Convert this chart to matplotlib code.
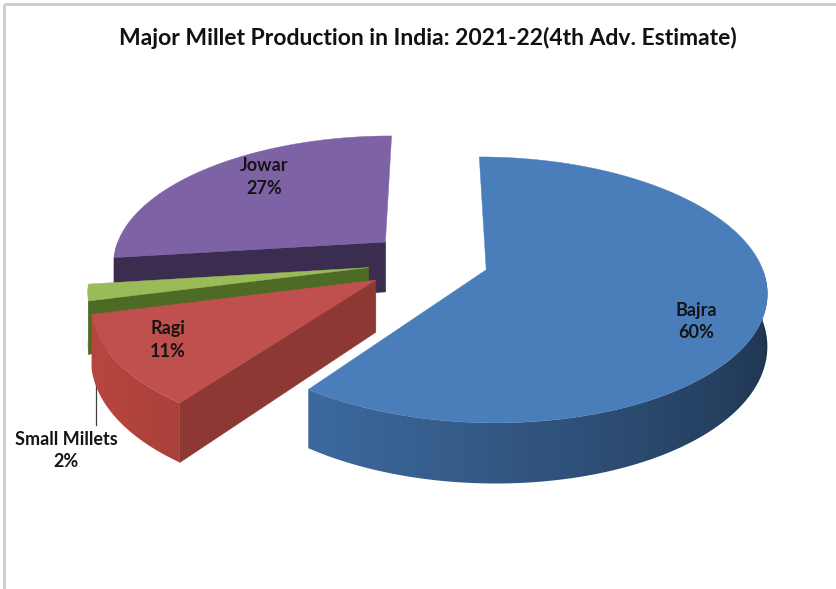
import numpy as np
import matplotlib.pyplot as plt
from matplotlib.colors import to_rgb
from matplotlib.patches import Polygon

crops = ['Bajra', 'Ragi', 'Small Millets', 'Jowar']
shares = [60, 11, 2, 27]
explode = [0.20, 0.25, 0.24, 0.24]
top_colors = ['#4a7ebb', '#c0504d', '#9bbb59', '#7e62a6']
wall_colors = ['#4272ab', '#b8463f', '#587a2b', '#3b2d4f']
cut_colors = ['#2c4c76', '#8e3835', '#4e6b25', '#3b2d4f']
label_r = [0.80, 0.80, 0.97, 0.77]
label_turn = [-10, -2.5, 0, -7.5]
title = 'Major Millet Production in India: 2021-22(4th Adv. Estimate)'

W, H = 836, 589
CX, CY = 433.6, 261.8     # pie centre on the page (px)
RX, RY = 274.0, 127.5     # radius across / radius into the page
K = 0.15                  # perspective foreshortening
DEPTH = 51.0              # thickness of the pie


def proj(u, v, z=0.0):
    s = 1.0 / (1.0 + K * v)
    return CX + RX * u * s, CY - RY * v * s + DEPTH * z * s


def shade(color, f):
    return [min(1, c * f) for c in to_rgb(color)]


fig = plt.figure(figsize=(W / 100, H / 100), dpi=100)
ax = fig.add_axes([0, 0, 1, 1])

# slices run clockwise from 12 o'clock
ends = 90 - 360 * np.cumsum(shares) / sum(shares)
starts = np.r_[90, ends[:-1]]
slices = []
for i in range(len(shares)):
    a0, a1 = starts[i], ends[i]
    mid = np.radians((a0 + a1) / 2)
    slices.append((a0, a1, explode[i] * np.cos(mid), explode[i] * np.sin(mid)))

order = np.argsort([-s[3] for s in slices])  # far slices first
for i in order:
    a0, a1, ox, oy = slices[i]

    # straight cut faces that turn toward the viewer
    for a, nrm in ((a0, a0 + 90), (a1, a1 - 90)):
        if np.sin(np.radians(nrm)) < -1e-6:
            eu = ox + np.cos(np.radians(a))
            ev = oy + np.sin(np.radians(a))
            pts = [proj(ox, oy), proj(eu, ev), proj(eu, ev, 1), proj(ox, oy, 1)]
            ax.fill(*zip(*pts), color=cut_colors[i], lw=0.5, zorder=2)

    # front part of the curved wall, shaded with a gradient
    lo, hi = max(a1, -180), min(a0, 0)
    if hi > lo:
        tt = np.radians(np.linspace(lo, hi, 200))
        xt, yt = proj(ox + np.cos(tt), oy + np.sin(tt))
        xb, yb = proj(ox + np.cos(tt), oy + np.sin(tt), 1)
        wall = Polygon(np.c_[np.r_[xt, xb[::-1]], np.r_[yt, yb[::-1]]],
                       closed=True, fc='none', ec='none')
        ax.add_patch(wall)
        cols = np.linspace(xt.min(), xt.max(), 400)
        ang = np.interp(cols, xt, tt)
        f = 0.45 + 0.55 * (np.cos(ang - np.radians(-170)) + 1) / 2
        img = np.array([shade(wall_colors[i], fi) for fi in f])[None, :, :]
        im = ax.imshow(img, extent=(xt.min() - 1, xt.max() + 1, yb.max() + 1, yt.min() - 1),
                       aspect='auto', interpolation='bilinear', zorder=2)
        im.set_clip_path(wall)

    # top face
    t = np.radians(np.linspace(a0, a1, 240))
    tx, ty = proj(np.r_[ox, ox + np.cos(t), ox], np.r_[oy, oy + np.sin(t), oy])
    ax.fill(tx, ty, color=top_colors[i], lw=0.3, zorder=2)

# data labels
for i, name in enumerate(crops):
    a0, a1, ox, oy = slices[i]
    ang = np.radians((a0 + a1) / 2 + label_turn[i])
    u = ox + label_r[i] * np.cos(ang)
    v = oy + label_r[i] * np.sin(ang)
    txt = f'{name}\n{shares[i]}%'
    if shares[i] < 5:
        x, y = proj(u, v, 1)
        ax.plot([x, x], [y, y + 80], color='#404040', lw=0.9, zorder=1)
        ax.text(x - 30, y + 106, txt, ha='center', va='center', fontsize=13,
                fontweight='bold', family='Lato', color='#141414', linespacing=1.4)
    else:
        x, y = proj(u, v)
        ax.text(x, y, txt, ha='center', va='center', fontsize=13,
                fontweight='bold', family='Lato', color='#141414', linespacing=1.4, zorder=5)

# chart area frame
ax.plot([4, W], [4, 4], color='#cccccc', lw=2, solid_capstyle='butt')
ax.plot([4, 4], [4, H], color='#cccccc', lw=2, solid_capstyle='butt')

ax.set_xlim(0, W)
ax.set_ylim(H, 0)
ax.axis('off')

fig.text(427.5 / W, 1 - 38 / H, title, ha='center', va='center', fontsize=16.5,
         fontweight='bold', family='Lato', color='#111111')

fig.savefig('out.png', dpi=100)
